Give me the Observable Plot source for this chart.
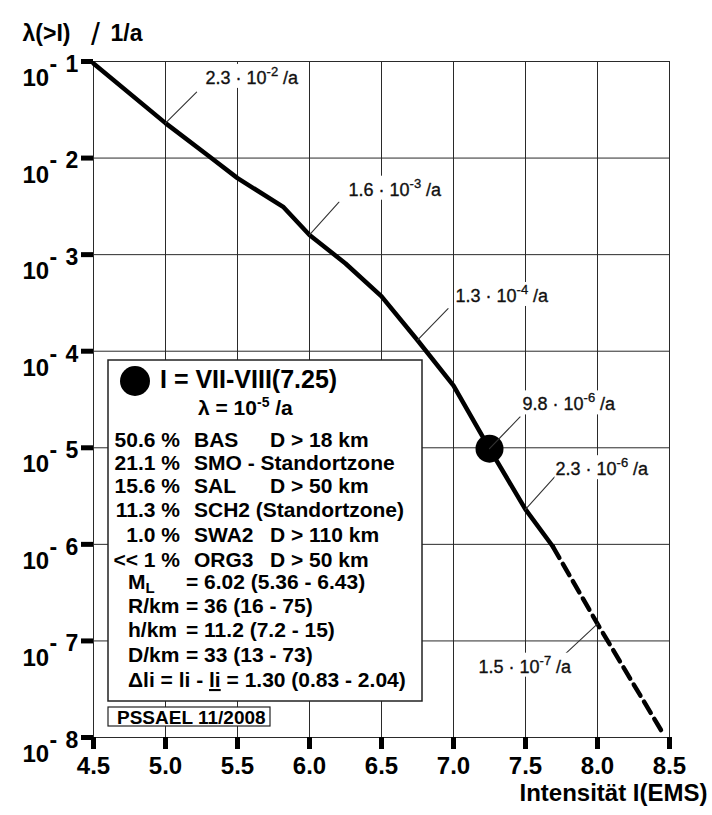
<!DOCTYPE html>
<html><head><meta charset="utf-8">
<script src="https://cdn.jsdelivr.net/npm/d3@7"></script>
<script src="https://cdn.jsdelivr.net/npm/@observablehq/plot@0.6"></script>
<style>
html,body{margin:0;padding:0;background:#fff;}
#chart{width:712px;height:815px;}
</style></head><body><div id="chart"></div>
<script>
// ---------- data ----------
const xTicks = [4.5, 5.0, 5.5, 6.0, 6.5, 7.0, 7.5, 8.0, 8.5];
const yTicks = [1e-1, 1e-2, 1e-3, 1e-4, 1e-5, 1e-6, 1e-7, 1e-8];
const yExponents = ["1", "2", "3", "4", "5", "6", "7", "8"];

const solidI      = [4.5, 5.0, 5.3, 5.5, 5.82, 6.0, 6.25, 6.5, 6.75, 7.0, 7.25, 7.5, 7.69];
const solidLambda = [0.0955, 0.023, 0.0105, 0.0062, 0.0031, 0.0016, 0.00081, 0.00037, 0.00013, 4.4e-5, 9.8e-6, 2.3e-6, 9.5e-7];
const dashedI      = [7.69, 8.0, 8.46];
const dashedLambda = [9.5e-7, 1.5e-7, 1.07e-8];
const markerI = [7.25];
const markerLambda = [9.8e-6];

const annI      = [5.0, 6.0, 6.75, 7.25, 7.5, 8.0];
const annLambda = [2.3e-2, 1.6e-3, 1.3e-4, 9.8e-6, 2.3e-6, 1.5e-7];
const annText   = ["2.3 · 10^{-2} /a", "1.6 · 10^{-3} /a", "1.3 · 10^{-4} /a",
                   "9.8 · 10^{-6} /a", "2.3 · 10^{-6} /a", "1.5 · 10^{-7} /a"];

const legendHead = "I = VII-VIII(7.25)";
const legendRate = "λ = 10^{-5} /a";
const zoneShare = ["50.6 %", "21.1 %", "15.6 %", "11.3 %", "1.0 %", "<< 1 %"];
const zoneName  = ["BAS", "SMO - Standortzone", "SAL", "SCH2 (Standortzone)", "SWA2", "ORG3"];
const zoneDist  = ["D > 18 km", "", "D > 50 km", "", "D > 110 km", "D > 50 km"];
const paramName  = ["M", "R/km", "h/km", "D/km"];
const paramSub   = ["L", "", "", ""];
const paramValue = ["= 6.02 (5.36 - 6.43)", "= 36 (16 - 75)", "= 11.2 (7.2 - 15)", "= 33 (13 - 73)"];
const deltaParts = ["Δli = li - ", "li", " = 1.30 (0.83 - 2.04)"];
const stampText = "PSSAEL 11/2008";
const yTitle = ["λ(>I)", "/", "1/a"];
const xTitle = "Intensität I(EMS)";

// ---------- layout / style (pixels) ----------
const FONT = "'Liberation Sans', Arial, Helvetica, sans-serif";
const leaderAngle = [45, 42, 44, 44, 42, 227];
const labelDx = [40, 39, 38, 33, 30, -119];
const labelDy = [-45, -45, -44, -44, -40, 43];

const solid = solidI.map((I, i) => ({I, lambda: solidLambda[i]}));
const dashed = dashedI.map((I, i) => ({I, lambda: dashedLambda[i]}));
const marker = markerI.map((I, i) => ({I, lambda: markerLambda[i]}));
const ann = annI.map((I, i) => ({I, lambda: annLambda[i], text: annText[i], angle: leaderAngle[i]}));

const leaderShape = {draw(context, l) { context.moveTo(0, 0); context.lineTo(0, -l); }};

const txt = {fontFamily: FONT, fontWeight: "bold", fill: "#000"};

const chart = Plot.plot({
  width: 712, height: 815,
  marginTop: 61, marginRight: 43, marginBottom: 78, marginLeft: 93,
  style: {fontFamily: FONT, background: "#fff", color: "#000", overflow: "visible"},
  x: {domain: [4.5, 8.5]},
  y: {type: "log", domain: [1e-8, 1e-1]},
  marks: [
    Plot.gridX(xTicks, {stroke: "#2a2a2a", strokeOpacity: 1, strokeWidth: 1}),
    Plot.gridY(yTicks, {stroke: "#2a2a2a", strokeOpacity: 1, strokeWidth: 1}),
    Plot.line(solid, {x: "I", y: "lambda", stroke: "#000", strokeWidth: 4.5, strokeLinejoin: "round"}),
    Plot.line(dashed, {x: "I", y: "lambda", stroke: "#000", strokeWidth: 4.5, strokeDasharray: "13,7"}),
    Plot.dot(marker, {x: "I", y: "lambda", r: 14, fill: "#000", stroke: null}),
    Plot.vector(ann, {x: "I", y: "lambda", length: 44, rotate: "angle", anchor: "start",
                      shape: leaderShape, stroke: "#333", strokeWidth: 1.1}),
    ...ann.map((d, i) => Plot.text([d], {x: "I", y: "lambda", text: "text", dx: labelDx[i], dy: labelDy[i],
                      textAnchor: "start", fontFamily: FONT, fontSize: 18, fill: "#111",
                      stroke: "#111", strokeWidth: 0.35})),
    Plot.axisX(xTicks, {tickSize: 12, strokeWidth: 5, tickFormat: () => "", label: null}),
    Plot.axisY(yTicks, {tickSize: 12, strokeWidth: 5, tickFormat: () => "", label: null}),
    // x tick labels
    Plot.text(xTicks, {x: d => d, text: d => d.toFixed(1), frameAnchor: "bottom", dy: 36, ...txt, fontSize: 24}),
    // y tick labels 10^-k
    Plot.text(yTicks, {y: d => d, text: () => "10", frameAnchor: "left", dx: -71, dy: 17, textAnchor: "start", ...txt, fontSize: 24}),
    Plot.text(yTicks, {y: d => d, text: () => "-", frameAnchor: "left", dx: -44, dy: 3, textAnchor: "start", ...txt, fontSize: 23}),
    Plot.text(yTicks, {y: d => d, text: (d, i) => yExponents[i], frameAnchor: "left", dx: -28, dy: 3, textAnchor: "start", ...txt, fontSize: 23}),
    // axis titles
    Plot.text([yTitle[0]], {frameAnchor: "top-left", dx: -71, dy: -37, textAnchor: "start", ...txt, fontSize: 23}),
    Plot.text([yTitle[1]], {frameAnchor: "top-left", dx: 2, dy: -39, textAnchor: "middle", fontFamily: FONT, fontWeight: "normal", fill: "#000", fontSize: 32}),
    Plot.text([yTitle[2]], {frameAnchor: "top-left", dx: 17, dy: -37, textAnchor: "start", ...txt, fontSize: 23}),
    Plot.text([xTitle], {frameAnchor: "bottom-right", dx: 38, dy: 63, textAnchor: "end", ...txt, fontSize: 24})
  ]
});

const NS = "http://www.w3.org/2000/svg";
function richText(el, s, supSize, shift) {
  const parts = s.split(/\^\{([^}]*)\}/);
  while (el.firstChild) el.removeChild(el.firstChild);
  let raised = false;
  parts.forEach((p, i) => {
    if (!p) return;
    const t = document.createElementNS(NS, "tspan");
    if (i % 2 === 1) { t.setAttribute("font-size", supSize); t.setAttribute("dy", -shift); raised = true; }
    else if (raised) { t.setAttribute("dy", shift); raised = false; }
    t.textContent = p;
    el.appendChild(t);
  });
}

const svg = d3.select(chart);
const annTexts = [];
svg.selectAll("text").each(function() {
  const s = this.textContent;
  if (s.includes("^{")) { richText(this, s, 13, 8); annTexts.push(this); }
});

// ---------- legend box ----------
const groups = chart.querySelectorAll(":scope > g");
const L = svg.insert("g", () => groups[2])
  .attr("font-family", FONT).attr("font-weight", "bold").attr("fill", "#000")
  .attr("text-anchor", "start");
L.append("rect").attr("x", 108).attr("y", 360).attr("width", 314).attr("height", 341)
  .attr("fill", "#fff").attr("stroke", "#222").attr("stroke-width", 1.5);
L.append("circle").attr("cx", 135).attr("cy", 381).attr("r", 15).attr("fill", "#000");
L.append("text").attr("x", 160).attr("y", 388).attr("font-size", 25).text(legendHead);
const rate = L.append("text").attr("x", 198).attr("y", 415).attr("font-size", 21);
richText(rate.node(), legendRate, 14, 8);
const rowY = [447, 470, 493, 517, 542, 567];
zoneShare.forEach((s, i) => {
  L.append("text").attr("x", 180).attr("y", rowY[i]).attr("font-size", 21).attr("text-anchor", "end").text(s);
  L.append("text").attr("x", 194).attr("y", rowY[i]).attr("font-size", 21).text(zoneName[i]);
  if (zoneDist[i]) L.append("text").attr("x", 270).attr("y", rowY[i]).attr("font-size", 21).text(zoneDist[i]);
});
const paramY = [589, 613, 637, 662];
paramName.forEach((n, i) => {
  const t = L.append("text").attr("x", 128).attr("y", paramY[i]).attr("font-size", 21);
  t.append("tspan").text(n);
  if (paramSub[i]) t.append("tspan").attr("font-size", 15).attr("dy", 4).text(paramSub[i]);
  L.append("text").attr("x", 186).attr("y", paramY[i]).attr("font-size", 21).text(paramValue[i]);
});
const dl = L.append("text").attr("x", 128).attr("y", 687).attr("font-size", 21);
dl.append("tspan").text(deltaParts[0]);
dl.append("tspan").attr("text-decoration", "underline").text(deltaParts[1]);
dl.append("tspan").text(deltaParts[2]);
L.append("rect").attr("x", 108).attr("y", 707).attr("width", 162).attr("height", 19)
  .attr("fill", "#fff").attr("stroke", "#222").attr("stroke-width", 1.2);
L.append("text").attr("x", 117).attr("y", 724).attr("font-size", 19).text(stampText);

document.getElementById("chart").appendChild(chart);

// white boxes behind annotation labels (mask grid lines)
annTexts.forEach(el => {
  const b = el.getBBox();
  const r = document.createElementNS(NS, "rect");
  r.setAttribute("x", b.x - 1); r.setAttribute("y", b.y);
  r.setAttribute("width", b.width + 2); r.setAttribute("height", b.height);
  r.setAttribute("fill", "#fff"); r.setAttribute("stroke", "none");
  const tr = el.getAttribute("transform"); if (tr) r.setAttribute("transform", tr);
  el.parentNode.insertBefore(r, el);
});
</script>
</body></html>
